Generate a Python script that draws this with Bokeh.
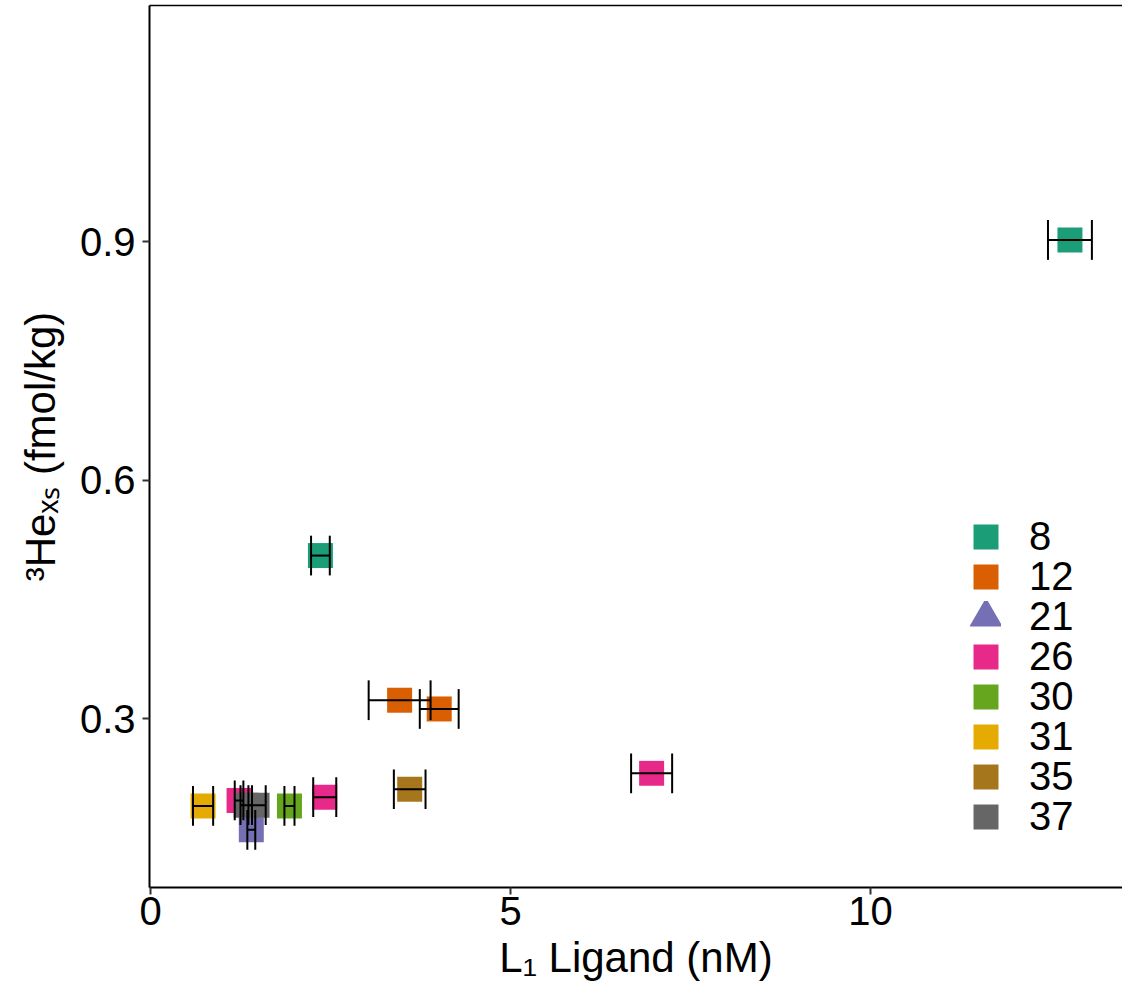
import math
from bokeh.plotting import figure
from bokeh.models import Range1d, LinearAxis, FixedTicker, Legend, LegendItem, ColumnDataSource
from bokeh.embed import file_html
from bokeh.resources import INLINE

# ---------------- data ----------------
stations = ["8", "12", "21", "26", "30", "31", "35", "37"]
station_colors = ["#1B9E77", "#D95F02", "#7570B3", "#E7298A",
                  "#66A61E", "#E6AB02", "#A6761D", "#666666"]
legend_markers = ["square", "square", "triangle", "square",
                  "square", "square", "square", "square"]

pt_station = ["8", "8", "12", "12", "21", "26", "26", "26", "30", "31", "35", "37", "37"]
pt_l1 = [2.36, 12.77, 3.46, 4.01, 1.40, 1.23, 2.42, 6.96, 1.93, 0.73, 3.60, 1.33, 1.48]
pt_l1_err = [0.13, 0.305, 0.43, 0.27, 0.055, 0.06, 0.16, 0.285, 0.07, 0.14, 0.22, 0.08, 0.12]
pt_he = [0.505, 0.902, 0.323, 0.312, 0.160, 0.197, 0.201, 0.231, 0.190, 0.190, 0.211, 0.191, 0.191]

x_ticks = [0, 5, 10]
y_ticks = [0.3, 0.6, 0.9]
x_title = "L\u2081 Ligand (nM)"
y_title = "\u00b3He\u2093\u209b (fmol/kg)"

# ---------------- style ----------------
FONT = "Liberation Sans"
TICK_FS = 40
TITLE_FS = 42
LEG_FS = 40
CAP_H = 0.05          # error bar cap height (data units)
X_RANGE = (-0.0139, 13.50)
Y_RANGE = (0.0874, 1.197)

p = figure(frame_width=973, frame_height=882,
           min_border_left=149, min_border_right=0,
           min_border_top=5, min_border_bottom=92,
           x_range=Range1d(*X_RANGE), y_range=Range1d(*Y_RANGE),
           output_backend="svg", toolbar_location=None)
p.background_fill_color = "white"
p.border_fill_color = "white"
p.outline_line_color = None
p.xgrid.visible = False
p.ygrid.visible = False

for ax, ticks in ((p.xaxis[0], x_ticks), (p.yaxis[0], y_ticks)):
    ax.ticker = FixedTicker(ticks=ticks)
    ax.minor_tick_line_color = None
    ax.major_tick_in = 0
    ax.major_tick_out = 7
    ax.major_tick_line_width = 2
    ax.major_tick_line_color = "#333333"
    ax.axis_line_width = 2
    ax.axis_line_color = "black"
    ax.major_label_text_font = FONT
    ax.major_label_text_font_size = f"{TICK_FS}px"
    ax.major_label_text_color = "black"
    ax.axis_label_text_font = FONT
    ax.axis_label_text_font_size = f"{TITLE_FS}px"
    ax.axis_label_text_font_style = "normal"
    ax.axis_label_text_color = "black"
p.xaxis.major_label_standoff = 2
p.yaxis.major_label_standoff = 7
p.xaxis.axis_label = x_title
p.yaxis.axis_label = y_title
p.xaxis.axis_label_standoff = 6
p.yaxis.axis_label_standoff = 13

top_axis = LinearAxis(ticker=FixedTicker(ticks=[]), major_tick_out=0, major_tick_in=0,
                      minor_tick_out=0, minor_tick_in=0, major_label_standoff=0,
                      major_label_text_font_size="0px", axis_line_width=1.5,
                      axis_line_color="black")
p.add_layout(top_axis, "above")

# ---------------- points ----------------
for st, col in zip(stations, station_colors):
    idx = [i for i, s in enumerate(pt_station) if s == st]
    src = ColumnDataSource(dict(x=[pt_l1[i] for i in idx], y=[pt_he[i] for i in idx]))
    p.scatter("x", "y", source=src, marker="square", size=25,
              fill_color=col, line_color=None)

# ---------------- error bars ----------------
lo = [x - e for x, e in zip(pt_l1, pt_l1_err)]
hi = [x + e for x, e in zip(pt_l1, pt_l1_err)]
ylo = [y - CAP_H / 2 for y in pt_he]
yhi = [y + CAP_H / 2 for y in pt_he]
p.segment(x0=lo, y0=pt_he, x1=hi, y1=pt_he, line_color="black", line_width=2)
p.segment(x0=lo, y0=ylo, x1=lo, y1=yhi, line_color="black", line_width=2)
p.segment(x0=hi, y0=ylo, x1=hi, y1=yhi, line_color="black", line_width=2)

# ---------------- legend (one row per Legend for exact 40px row pitch) ----------------
ROW0_Y = 328      # px above frame bottom of first legend row box
ROW_PITCH = 40
for i, (st, col, mk) in enumerate(zip(stations, station_colors, legend_markers)):
    lw = 12.6 if mk == "square" else 12
    r = p.scatter(x=[float("nan")], y=[float("nan")], marker=mk, size=25,
                  fill_color=col, line_color=col, line_width=lw, line_join="miter")
    lg = Legend(items=[LegendItem(label=st, renderers=[r])],
                location=(821, ROW0_Y - i * ROW_PITCH),
                glyph_width=31, glyph_height=31, spacing=0, padding=10, margin=0,
                label_standoff=28, label_text_font=FONT,
                label_text_font_size=f"{LEG_FS}px", label_text_baseline="middle",
                label_text_color="black", border_line_color=None,
                background_fill_alpha=0)
    p.add_layout(lg, "center")

open("out.html", "w").write(file_html(p, INLINE))
